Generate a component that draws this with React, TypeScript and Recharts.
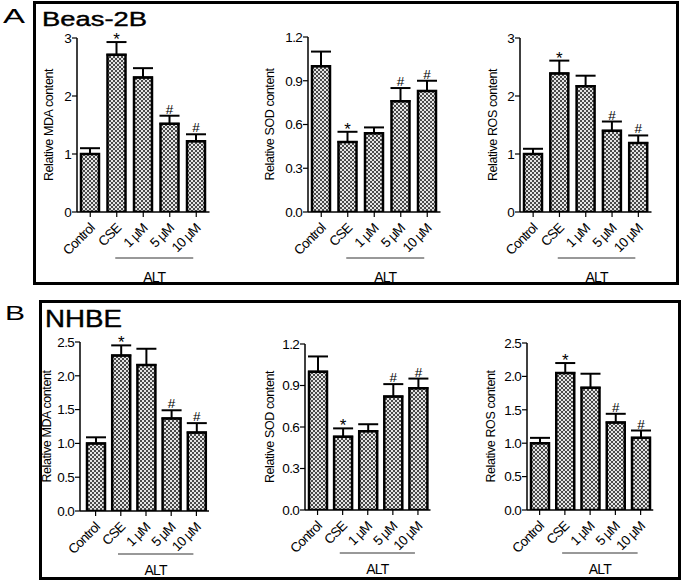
import React from "react";
import { BarChart, Bar, XAxis, YAxis, ErrorBar, LabelList } from "recharts";

const groups = ["Control", "CSE", "1 µM", "5 µM", "10 µM"];
const marks = ["", "*", "", "#", "#"];

const beasMda = [1.0, 2.71, 2.32, 1.52, 1.22];
const beasMdaErr = [0.1, 0.22, 0.16, 0.14, 0.12];
const beasSod = [1.0, 0.48, 0.54, 0.76, 0.83];
const beasSodErr = [0.1, 0.07, 0.04, 0.09, 0.07];
const beasRos = [1.0, 2.39, 2.17, 1.4, 1.19];
const beasRosErr = [0.09, 0.22, 0.18, 0.16, 0.13];

const nhbeMda = [1.0, 2.3, 2.16, 1.37, 1.16];
const nhbeMdaErr = [0.09, 0.15, 0.24, 0.12, 0.14];
const nhbeSod = [1.0, 0.53, 0.57, 0.82, 0.88];
const nhbeSodErr = [0.11, 0.06, 0.05, 0.09, 0.07];
const nhbeRos = [1.0, 2.05, 1.83, 1.31, 1.08];
const nhbeRosErr = [0.08, 0.15, 0.21, 0.13, 0.11];

const ticks3 = [0, 1, 2, 3];
const ticks12 = [0, 0.3, 0.6, 0.9, 1.2];
const ticks25 = [0, 0.5, 1, 1.5, 2, 2.5];

const FONT = "'Liberation Sans', Arial, Helvetica, sans-serif";

interface PanelChartProps {
  id: string;
  values: number[];
  errors: number[];
  yLabel: string;
  yMax: number;
  yTicks: number[];
  decimals: number;
  // layout (page pixels)
  axisX: number;
  plotTop: number;
  plotBottom: number;
  band: number;
  padLeft?: number;
  labelOffset: number;
  altLineDy: number;
  altTextDy: number;
}

function PanelChart(p: PanelChartProps) {
  const yw = 56;
  const top = 22;
  const right = 8;
  const xh = 82;
  const padLeft = p.padLeft ?? 0;
  const plotH = p.plotBottom - p.plotTop;
  const plotW = p.band * 5 + padLeft;
  const width = yw + plotW + right;
  const height = top + plotH + xh;
  const axisY = top + plotH;
  const center = (i: number) => yw + padLeft + (i + 0.5) * p.band;

  const rows = groups.map((g, i) => ({
    group: g,
    value: p.values[i],
    err: [0, p.errors[i]],
    mark: marks[i],
  }));

  const XTick = (tp: any) => {
    const tx = tp.x + 5;
    const ty = tp.y + 10;
    return (
      <text
        x={tx}
        y={ty}
        transform={`rotate(-45 ${tx} ${ty})`}
        textAnchor="end"
        fontSize={13.5}
        letterSpacing={-0.8}
        fontFamily={FONT}
        fill="#000"
      >
        {tp.payload.value}
      </text>
    );
  };

  const altLabel = () => {
    const x1 = center(2) - 28;
    const x2 = center(4) - 3;
    return (
      <g>
        <line x1={x1} x2={x2} y1={axisY + p.altLineDy} y2={axisY + p.altLineDy} stroke="#333" strokeWidth={1} />
        <text
          x={(x1 + x2) / 2}
          y={axisY + p.altTextDy}
          textAnchor="middle"
          fontSize={14}
          letterSpacing={-0.8}
          fontFamily={FONT}
          fill="#000"
        >
          ALT
        </text>
      </g>
    );
  };

  const yLabel = () => {
    const lx = yw - p.labelOffset;
    const ly = top + plotH / 2;
    return (
      <text
        x={lx}
        y={ly}
        transform={`rotate(-90 ${lx} ${ly})`}
        textAnchor="middle"
        dominantBaseline="middle"
        fontSize={12.5}
        letterSpacing={-0.4}
        fontFamily={FONT}
        fill="#000"
      >
        {p.yLabel}
      </text>
    );
  };

  const markLabel = (lp: any) => {
    const idx = lp.index;
    const m = marks[idx];
    if (!m) return null;
    const vb = lp.viewBox ?? lp;
    const x = Number(lp.x ?? vb.x);
    const y = Number(lp.y ?? vb.y);
    const w = Number(lp.width ?? vb.width);
    const h = Number(lp.height ?? vb.height);
    const ppu = Math.abs(h) / p.values[idx];
    const errTop = Math.min(y, y + h) - p.errors[idx] * ppu;
    const star = m === "*";
    return (
      <text
        x={x + w / 2}
        y={errTop - (star ? -3 : 2)}
        textAnchor="middle"
        fontSize={star ? 17 : 13.5}
        fontFamily={FONT}
        fill="#000"
      >
        {m}
      </text>
    );
  };

  return (
    <div style={{ position: "absolute", left: p.axisX - yw, top: p.plotTop - top }}>
      <BarChart
        width={width}
        height={height}
        data={rows}
        margin={{ top, right, bottom: 0, left: 0 }}
        barSize={18}
      >
        <defs>
          <pattern id={`chk-${p.id}`} width={4} height={4} patternUnits="userSpaceOnUse">
            <rect width={4} height={4} fill="#e4e4e4" />
            <rect width={2} height={2} fill="#4a4a4a" />
            <rect x={2} y={2} width={2} height={2} fill="#4a4a4a" />
          </pattern>
        </defs>
        <XAxis
          dataKey="group"
          interval={0}
          height={xh}
          tickSize={5}
          padding={{ left: padLeft, right: 0 }}
          axisLine={{ stroke: "#000", strokeWidth: 1.5 }}
          tickLine={{ stroke: "#000", strokeWidth: 1.2 }}
          tick={XTick}
          label={{ content: altLabel }}
        />
        <YAxis
          type="number"
          domain={[0, p.yMax]}
          ticks={p.yTicks}
          width={yw}
          tickSize={5}
          tickMargin={1}
          allowDataOverflow
          axisLine={{ stroke: "#000", strokeWidth: 1.5 }}
          tickLine={{ stroke: "#000", strokeWidth: 1.2 }}
          tick={{ fontSize: 13.5, fill: "#000", fontFamily: FONT, letterSpacing: -0.7 }}
          tickFormatter={(v: number) => v.toFixed(p.decimals)}
          label={{ content: yLabel }}
        />
        <Bar
          dataKey="value"
          fill={`url(#chk-${p.id})`}
          stroke="#000"
          strokeWidth={2.5}
          isAnimationActive={false}
        >
          <ErrorBar dataKey="err" direction="y" width={10} stroke="#000" strokeWidth={2} />
          <LabelList dataKey="mark" content={markLabel} />
        </Bar>
      </BarChart>
    </div>
  );
}

export default function App() {
  return (
    <div
      style={{
        position: "absolute",
        left: 0,
        top: 0,
        width: 685,
        height: 582,
        background: "#fff",
        fontFamily: FONT,
        overflow: "hidden",
      }}
    >
      <svg width={685} height={582} style={{ position: "absolute", left: 0, top: 0 }}>
        <rect x={34.5} y={2.5} width={643} height={281} fill="none" stroke="#000" strokeWidth={3} />
        <rect x={40.5} y={301.5} width={639} height={277} fill="none" stroke="#000" strokeWidth={3} />
        <text x={3} y={23} fontSize={21} textLength={22} lengthAdjust="spacingAndGlyphs" fontFamily={FONT} fill="#000">
          A
        </text>
        <text x={42} y={26} fontSize={20} textLength={105} lengthAdjust="spacingAndGlyphs" fontFamily={FONT} fill="#000" stroke="#000" strokeWidth={0.4}>
          Beas-2B
        </text>
        <text x={5} y={320} fontSize={21} textLength={20} lengthAdjust="spacingAndGlyphs" fontFamily={FONT} fill="#000">
          B
        </text>
        <text x={45} y={327} fontSize={24} textLength={77} lengthAdjust="spacingAndGlyphs" fontFamily={FONT} fill="#000" stroke="#000" strokeWidth={0.4}>
          NHBE
        </text>
      </svg>

      <PanelChart id="a1" values={beasMda} errors={beasMdaErr} yLabel="Relative MDA content" yMax={3} yTicks={ticks3} decimals={0}
        axisX={76.5} plotTop={38} plotBottom={212} band={26.5} labelOffset={27} altLineDy={46} altTextDy={70} />
      <PanelChart id="a2" values={beasSod} errors={beasSodErr} yLabel="Relative SOD content" yMax={1.2} yTicks={ticks12} decimals={1}
        axisX={308} plotTop={37} plotBottom={212} band={26.5} labelOffset={37} altLineDy={46} altTextDy={70} />
      <PanelChart id="a3" values={beasRos} errors={beasRosErr} yLabel="Relative ROS content" yMax={3} yTicks={ticks3} decimals={0}
        axisX={520} plotTop={38} plotBottom={212} band={26.3} labelOffset={26} altLineDy={46} altTextDy={70} />

      <PanelChart id="b1" values={nhbeMda} errors={nhbeMdaErr} yLabel="Relative MDA content" yMax={2.5} yTicks={ticks25} decimals={1}
        axisX={80} plotTop={342} plotBottom={511} band={25.2} padLeft={3} labelOffset={32} altLineDy={43} altTextDy={64} />
      <PanelChart id="b2" values={nhbeSod} errors={nhbeSodErr} yLabel="Relative SOD content" yMax={1.2} yTicks={ticks12} decimals={1}
        axisX={305} plotTop={344} plotBottom={510} band={25.1} labelOffset={34} altLineDy={43} altTextDy={64} />
      <PanelChart id="b3" values={nhbeRos} errors={nhbeRosErr} yLabel="Relative ROS content" yMax={2.5} yTicks={ticks25} decimals={1}
        axisX={527} plotTop={343} plotBottom={510} band={25.25} labelOffset={35} altLineDy={43} altTextDy={64} />
    </div>
  );
}
